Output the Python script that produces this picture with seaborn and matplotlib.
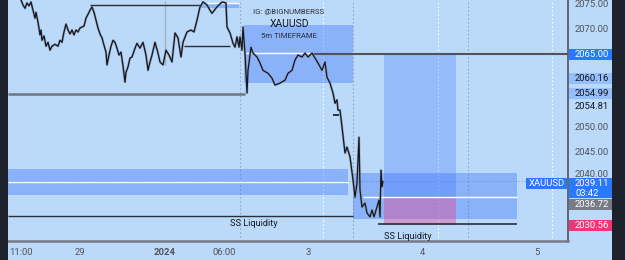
import matplotlib
matplotlib.use("Agg")
import matplotlib.pyplot as plt
import seaborn as sns
import pandas as pd
from matplotlib.patches import Rectangle

# ---------------- data ----------------
bars = [12, 13, 15, 17, 19, 21, 23, 25, 27, 28, 30, 32, 33, 34, 36, 38, 40, 42, 44, 47,
        50, 52, 54, 56, 58, 60, 62, 64, 66, 68, 70, 72, 74, 76, 78, 80, 82, 84, 86, 88,
        90, 92, 94, 96, 98, 99, 101, 103, 105, 107, 109, 111, 113, 115, 117, 118, 120, 122, 124, 127,
        129, 132, 135, 138, 140, 142, 144, 147, 150, 152, 155, 158, 161, 164, 167, 170, 173, 175, 179, 183,
        186, 189, 192, 195, 199, 202, 204, 207, 209, 212, 214, 218, 219, 222, 225, 227, 229, 231, 232, 234,
        235, 237, 239, 240, 243, 245, 249, 252, 255, 260, 264, 267, 272, 277, 280, 284, 287, 290, 294, 297,
        300, 304, 307, 310, 314, 317, 319, 322, 325, 327, 329, 330, 332, 334, 337, 339, 342, 345, 347, 349,
        351, 352, 354, 357, 359, 362, 364, 366, 369, 371, 372, 373, 374, 375]
closes = [2076.6, 2076.0, 2075.0, 2074.3, 2075.4, 2074.8, 2075.6, 2073.9, 2072.3, 2073.5, 2071.5, 2068.9, 2069.9, 2067.8, 2068.7, 2066.6, 2067.4, 2065.8, 2066.6, 2067.0,
          2066.6, 2067.8, 2067.4, 2069.5, 2071.1, 2069.9, 2069.1, 2069.9, 2068.9, 2069.9, 2069.5, 2070.3, 2070.5, 2070.7, 2072.3, 2073.1, 2073.9, 2074.6, 2073.5, 2071.9,
          2070.3, 2069.1, 2068.3, 2066.8, 2065.4, 2062.8, 2064.8, 2066.6, 2067.8, 2067.4, 2066.2, 2064.8, 2065.4, 2062.6, 2059.3, 2061.3, 2062.4, 2064.2, 2064.4, 2066.2,
          2067.2, 2066.2, 2067.4, 2064.8, 2061.7, 2063.4, 2064.8, 2067.4, 2065.2, 2063.4, 2062.8, 2065.8, 2064.8, 2063.4, 2069.3, 2068.3, 2064.4, 2067.4, 2069.5, 2069.9,
          2069.5, 2071.9, 2074.6, 2075.6, 2075.0, 2073.9, 2073.3, 2074.1, 2074.6, 2075.2, 2075.6, 2075.4, 2070.5, 2069.3, 2067.2, 2066.4, 2068.5, 2066.4, 2068.5, 2065.8,
          2070.5, 2065.2, 2057.1, 2061.7, 2066.4, 2065.2, 2064.4, 2063.2, 2061.7, 2061.1, 2060.1, 2058.7, 2059.1, 2059.7, 2061.1, 2061.7, 2063.8, 2064.8, 2064.4, 2065.2,
          2064.4, 2065.2, 2064.2, 2063.2, 2061.7, 2063.4, 2060.3, 2059.1, 2057.1, 2055.0, 2055.7, 2053.6, 2053.6, 2050.2, 2044.9, 2046.1, 2044.1, 2039.4, 2035.9, 2038.8,
          2048.1, 2037.4, 2033.9, 2034.7, 2032.7, 2031.9, 2033.3, 2031.9, 2033.9, 2035.3, 2031.9, 2041.4, 2038.0, 2039.11]

time_tick_pos = [13, 72, 157, 216, 300, 414, 529]
time_tick_labels = ["11:00", "29", "2024", "06:00", "3", "4", "5"]

# horizontal drawn levels
level_prices = [2075.0, 2066.6, 2056.9, 2065.0, 2032.1, 2030.4, 2052.6]
level_starts = [82, 176, 0, 304, 0, 370, 325]
level_ends = [192, 222, 237, 560, 345, 509, 331]

# zones
zone_x0 = [191, 236, 0, 345]
zone_x1 = [231, 345, 340, 509]
zone_lo = [2074.35, 2059.1, 2036.3, 2031.5]
zone_hi = [2075.4, 2070.9, 2041.6, 2040.8]
zone_mid = [2075.4, 2065.2, 2039.0, 2036.0]

# long position tool
pos_x0, pos_x1 = 376, 448
pos_target, pos_entry, pos_stop = 2065.2, 2036.0, 2030.2

last_price = 2039.11

axis_levels = ["2075.00", "2070.00", "2050.00", "2045.00"]

# ---------------- figure ----------------
W, H = 625, 260
sns.set_style("white")
plt.rcParams["font.family"] = ["Roboto", "DejaVu Sans"]

BG = "#BBDAF9"
fig = plt.figure(figsize=(W / 100, H / 100), dpi=100, facecolor=BG)
ax = fig.add_axes([8 / W, 19 / H, 560 / W, 241 / H])
ax.set_facecolor(BG)
ax.set_xlim(0, 560)
ax.set_ylim(2027.0, 2076.0)

# vertical session dotted lines
for xv in [315, 430, 544]:
    ax.axvline(xv, color="white", lw=0.8, ls=(0, (1.5, 2)), alpha=0.9, zorder=1)
for xv in [232, 345, 460]:
    ax.axvline(xv, color="#8A9BB5", lw=0.8, ls=(0, (1.5, 2)), alpha=0.8, zorder=1)

# zones
for x0, x1, lo, hi in zip(zone_x0, zone_x1, zone_lo, zone_hi):
    ax.add_patch(Rectangle((x0, lo), x1 - x0, hi - lo, color="#2962FF", alpha=0.33, lw=0, zorder=2))
ax.hlines(zone_mid[0], zone_x0[0], zone_x1[0], color="white", lw=1.0, zorder=3)
ax.hlines(zone_mid[1], zone_x0[1], 304, color="white", lw=1.0, zorder=3)
ax.hlines(zone_mid[2], zone_x0[2], zone_x1[2], color="white", lw=1.0, zorder=3)
ax.hlines(zone_mid[3], 355, zone_x1[3], color="white", lw=1.0, zorder=3)

# position tool
ax.add_patch(Rectangle((pos_x0, pos_entry), pos_x1 - pos_x0, pos_target - pos_entry,
                       color="#2962FF", alpha=0.25, lw=0, zorder=2))
ax.add_patch(Rectangle((pos_x0, pos_stop), pos_x1 - pos_x0, pos_entry - pos_stop,
                       color="#F52D7D", alpha=0.35, lw=0, zorder=2))

# current price dotted line
ax.axhline(last_price, color="#5B7FC0", lw=0.7, ls=(0, (1, 2)), alpha=0.7, zorder=2)

# levels
lev_colors = ["#2A2E39", "#2A2E39", "#6E7380", "#50535E", "#2A2E39", "#2A2E39", "#131722"]
lev_widths = [1.0, 1.0, 1.8, 1.5, 1.0, 1.2, 1.2]
for p, a, b, c, w in zip(level_prices, level_starts, level_ends, lev_colors, lev_widths):
    ax.hlines(p, a, b, color=c, lw=w, zorder=4)
ax.vlines(157, 2062.8, 2075.8, color="#A4AFC0", lw=1.0, zorder=3)

# price series
df = pd.DataFrame({"bar": bars, "close": closes})
sns.lineplot(data=df, x="bar", y="close", ax=ax, color="#8E98A8", lw=1.7, alpha=0.8,
             estimator=None, sort=False, zorder=5)
sns.lineplot(data=df, x="bar", y="close", ax=ax, color="#131722", lw=0.9,
             estimator=None, sort=False, zorder=6)

# texts in chart
ax.text(281, 2073.5, "IG: @BIGNUMBERSS", ha="center", va="center", fontsize=5.6, color="#2A2E39", zorder=7)
ax.text(281, 2071.1, "XAUUSD", ha="center", va="center", fontsize=7.5, color="#131722", zorder=7)
ax.text(281, 2068.7, "5m TIMEFRAME", ha="center", va="center", fontsize=5.6, color="#2A2E39", zorder=7)
ax.text(246, 2030.6, "SS Liquidity", ha="center", va="center", fontsize=6.6, color="#131722", zorder=7)
ax.text(400, 2028.0, "SS Liquidity", ha="center", va="center", fontsize=6.6, color="#131722", zorder=7)

# axes styling
for s in ["top", "left"]:
    ax.spines[s].set_visible(False)
ax.spines["right"].set_color("#50535E")
ax.spines["right"].set_linewidth(1.2)
ax.spines["bottom"].set_color("#787B86")
ax.spines["bottom"].set_linewidth(1.8)
ax.set_yticks([])
ax.set_xticks(time_tick_pos)
ax.set_xticklabels(time_tick_labels)
ax.tick_params(axis="x", length=0, pad=5, labelsize=6.8, labelcolor="#50535E")
for lbl in ax.get_xticklabels():
    if lbl.get_text() == "2024":
        lbl.set_fontweight("bold")
ax.set_xlabel("")
ax.set_ylabel("")

# ---------------- price axis labels ----------------
def ypx(price):
    return ax.transData.transform((0, price))[1]

def fbox(x0, x1, yc, h, color):
    fig.add_artist(Rectangle((x0 / W, (yc - h / 2) / H), (x1 - x0) / W, h / H,
                             transform=fig.transFigure, color=color, lw=0, zorder=8))

def ftext(x, yc, s, color, size=6.8, ha="left", z=9):
    fig.text(x / W, yc / H, s, color=color, fontsize=size, ha=ha, va="center", zorder=z)

for s in axis_levels:
    ftext(575, ypx(float(s)), s, "#50535E")
# level label just above the last-price box
ftext(575, ypx(2040.0) + 2.5, "2040.00", "#50535E", z=7)

ftext(575, ypx(2054.81) - 2, "2054.81", "#131722")
fbox(569, 612, ypx(2065.00), 11, "#2979FF")
ftext(575, ypx(2065.00), "2065.00", "white")
fbox(569, 612, ypx(2060.16) - 1, 11, "#96BEFA")
ftext(575, ypx(2060.16) - 1, "2060.16", "#131722")
fbox(569, 612, ypx(2054.99) + 10, 11, "#96BEFA")
ftext(575, ypx(2054.99) + 10, "2054.99", "#131722")

yl = ypx(last_price)
fbox(569, 612, yl - 6.6, 20, "#2979FF")
ftext(575, yl - 1.6, "2039.11", "white")
ftext(575, yl - 11.6, "03:42", "white")
fbox(526, 567, yl - 1.6, 11, "#2979FF")
ftext(546.5, yl - 1.6, "XAUUSD", "white", ha="center")
fbox(569, 612, yl - 23, 11, "#787B86")
ftext(575, yl - 23, "2036.72", "white")
fbox(569, 612, ypx(2030.56) - 2.5, 11, "#F23675")
ftext(575, ypx(2030.56) - 2.5, "2030.56", "white")

# dark side strips
fig.add_artist(Rectangle((0, 0), 8 / W, 1, transform=fig.transFigure, color="#1E222D", lw=0, zorder=10))
fig.add_artist(Rectangle((612 / W, 0), 13 / W, 1, transform=fig.transFigure, color="#1E222D", lw=0, zorder=10))

fig.savefig("out.png", dpi=100, facecolor=BG)
